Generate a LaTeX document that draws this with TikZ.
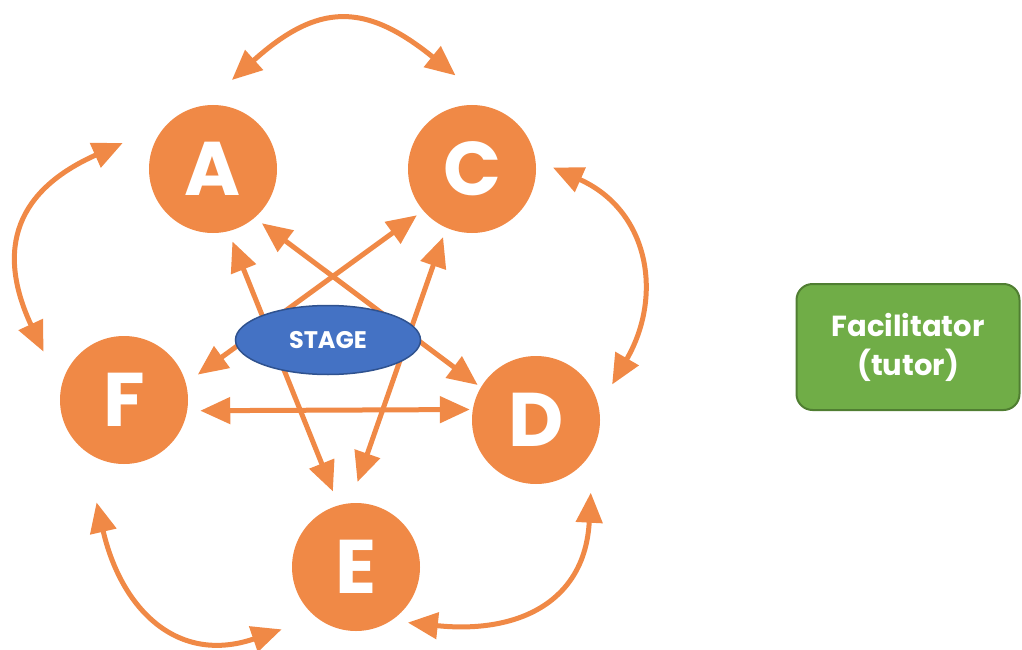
\documentclass[tikz,border=0pt]{standalone}
\usepackage{fontspec}
\setmainfont{Poppins}
\usetikzlibrary{arrows.meta, calc, shapes.geometric}
\definecolor{peerorange}{RGB}{240,137,70}
\definecolor{stageblue}{RGB}{68,114,196}
\definecolor{stageedge}{RGB}{47,82,143}
\definecolor{tutorgreen}{RGB}{112,173,71}
\definecolor{tutoredge}{RGB}{80,126,50}

\begin{document}
\begin{tikzpicture}[x=1pt, y=1pt,
  peer/.style={circle, fill=peerorange, minimum size=128pt, inner sep=0pt,
               text=white, font=\fontsize{76}{76}\selectfont\bfseries},
  arrow/.style={{Triangle[length=30pt,width=26pt]}-{Triangle[length=30pt,width=26pt]},
                line width=5pt, peerorange},
  stage/.style={ellipse, draw=stageedge, line width=1.5pt, fill=stageblue,
                minimum width=185pt, minimum height=69pt, inner sep=0pt,
                text=white, font=\fontsize{24}{24}\selectfont\bfseries},
  tutor/.style={rectangle, rounded corners=16pt, draw=tutoredge, line width=2pt,
                fill=tutorgreen, minimum width=223pt, minimum height=126pt,
                align=center, text=white, font=\fontsize{29}{39}\selectfont\bfseries}
]
\useasboundingbox (0,0) rectangle (1022,-650);

\node[peer] (A) at (213,-169) {A};
\node[peer] (C) at (472,-169) {C};
\node[peer] (F) at (124,-400) {F};
\node[peer] (D) at (536,-420) {D};
\node[peer] (E) at (356,-567) {E};

% across the circle
\draw[arrow] ($(A)+(-75:75)$)  -- ($(E)+(107:79)$);
\draw[arrow] ($(A)+(-48:73)$)  -- ($(D)+(149:68)$);
\draw[arrow] ($(C)+(-140:72)$) -- ($(F)+(19:78)$);
\draw[arrow] ($(C)+(-113:74)$) -- ($(E)+(89:85)$);
\draw[arrow] ($(F)+(-8:77)$)   -- ($(D)+(171:67)$);

% round the outside
\draw[arrow] ($(A)+(78:91)$)    to[out=42, in=141, distance=116] ($(C)+(100:95)$);
\draw[arrow] ($(A)+(164:94)$)   to[out=204, in=115, distance=115] ($(F)+(149:94)$);
\draw[arrow] ($(C)+(1:81)$)     to[out=-24, in=60, distance=104] ($(D)+(25:84)$);
\draw[arrow] ($(F)+(-105:106)$) to[out=-77, in=199, distance=110] ($(E)+(-140:97)$);
\draw[arrow] ($(E)+(-47:76)$)   to[out=-6, in=-93, distance=110] ($(D)+(-53:91)$);

\node[stage] (stage) at (328,-340) {STAGE};

\node[tutor] (tutor) at (908,-347) {Facilitator\\(tutor)};
\end{tikzpicture}
\end{document}
